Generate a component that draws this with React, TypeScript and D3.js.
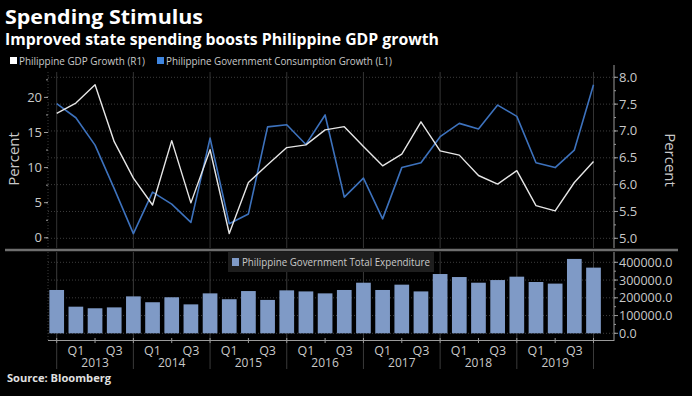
import React from 'react';
import * as d3 from 'd3';

// quarterly observations, Q4 2012 .. Q4 2019
const quarters = [
    '2012Q4',
    '2013Q1', '2013Q2', '2013Q3', '2013Q4',
    '2014Q1', '2014Q2', '2014Q3', '2014Q4',
    '2015Q1', '2015Q2', '2015Q3', '2015Q4',
    '2016Q1', '2016Q2', '2016Q3', '2016Q4',
    '2017Q1', '2017Q2', '2017Q3', '2017Q4',
    '2018Q1', '2018Q2', '2018Q3', '2018Q4',
    '2019Q1', '2019Q2', '2019Q3', '2019Q4',
];
// Philippine GDP Growth (R1)
const gdpGrowth = [
    7.33, 7.52, 7.86, 6.80, 6.12, 5.62, 6.82, 5.66, 6.65, 5.09,
    6.04, 6.37, 6.69, 6.74, 7.02, 7.08, 6.71, 6.35, 6.57, 7.17,
    6.63, 6.55, 6.17, 6.01, 6.26, 5.61, 5.51, 6.04, 6.43,
];
// Philippine Government Consumption Growth (L1)
const govConsumption = [
    19.1, 17.1, 13.2, 7.0, 0.6, 6.5, 4.8, 2.2, 14.2, 2.0,
    3.4, 15.8, 16.1, 13.3, 17.5, 5.8, 8.5, 2.7, 10.0, 10.7,
    14.4, 16.3, 15.5, 18.9, 17.3, 10.7, 10.0, 12.5, 21.8,
];
// Philippine Government Total Expenditure
const govExpenditure = [
    244000, 150000, 141000, 146000, 208000, 175000, 203000, 163000, 225000, 192000,
    238000, 188000, 242000, 236000, 225000, 244000, 285000, 244000, 274000, 236000,
    334000, 317000, 285000, 300000, 319000, 289000, 280000, 419000, 370000,
];
const leftTicks = [0, 5, 10, 15, 20];
const rightTicks = [5.0, 5.5, 6.0, 6.5, 7.0, 7.5, 8.0];
const barTicks = [0, 100000, 200000, 300000, 400000];

const W = 692;
const H = 396;
const FONT = '"Open Sans", "DejaVu Sans", sans-serif';
const TXT = '#c9c9c9';
const AXIS = '#9a9a9a';
const GRID = '#3d3d3d';
const BLUE = '#3d72bd';
const WHITE = '#e6e6e6';
const BAR = '#7f9ac6';

export default function App() {
    const plotL = 48;
    const plotR = 614;

    const x = d3.scaleLinear().domain([0, quarters.length - 1]).range([56.7, 593.5]);
    const yL = d3.scaleLinear().domain([0, 20]).range([237.8, 97.4]);
    const yR = d3.scaleLinear().domain([5, 8]).range([238.3, 77.3]);
    const yB = d3.scaleLinear().domain([0, 400000]).range([333.3, 262.3]);

    const gdpLine = d3.line<number>().x((_, i) => x(i)).y(d => yR(d));
    const govLine = d3.line<number>().x((_, i) => x(i)).y(d => yL(d));

    const barW = 14.7;
    const yearEnds = quarters.map((q, i) => (q.endsWith('Q4') ? i : -1)).filter(i => i >= 0);
    const halfTicks = quarters.map((q, i) => (q.endsWith('Q2') || q.endsWith('Q4') ? i : -1)).filter(i => i >= 0);
    const qLabels = quarters.map((q, i) => ({ q, i })).filter(d => d.q.endsWith('Q1') || d.q.endsWith('Q3'));
    const yearLabels = quarters.map((q, i) => ({ q, i })).filter(d => d.q.endsWith('Q2'));

    const rightMinor = d3.range(5, 8.01, 0.25);
    const leftMinor = d3.range(0, 22.6, 2.5);
    const barMinor = d3.range(0, 400001, 50000);

    return (
        <svg width={W} height={H} style={{ position: 'absolute', left: 0, top: 0, background: '#000' }} fontFamily={FONT}>
            <rect x={0} y={0} width={W} height={H} fill="#000" />

            {/* titles */}
            <text x={5} y={24} fill="#fff" fontSize={19.5} fontWeight={700} textLength={198} lengthAdjust="spacingAndGlyphs">Spending Stimulus</text>
            <text x={5} y={45} fill="#fff" fontSize={16} fontWeight={700} textLength={434} lengthAdjust="spacingAndGlyphs">Improved state spending boosts Philippine GDP growth</text>

            {/* legend top */}
            <rect x={10} y={57} width={7} height={7} fill="#fff" />
            <text x={19} y={65} fill={TXT} fontSize={11} textLength={126} lengthAdjust="spacingAndGlyphs">Philippine GDP Growth (R1)</text>
            <rect x={157} y={57} width={7} height={7} fill="#3f86e0" />
            <text x={166} y={65} fill={TXT} fontSize={11} textLength={226} lengthAdjust="spacingAndGlyphs">Philippine Government Consumption Growth (L1)</text>

            {/* top panel grid */}
            {rightTicks.map(t => (
                <line key={'hg' + t} x1={plotL} x2={plotR} y1={yR(t)} y2={yR(t)} stroke={GRID} strokeDasharray="1,2" />
            ))}
            {yearEnds.map(i => (
                <line key={'vg' + i} x1={x(i)} x2={x(i)} y1={72} y2={248} stroke="#333" />
            ))}
            <line x1={plotL} x2={plotL} y1={72} y2={248} stroke="#3a3a3a" strokeDasharray="1,2" />

            {/* left axis */}
            {leftMinor.map(t => (
                <line key={'lm' + t} x1={plotL - 2} x2={plotL} y1={yL(t)} y2={yL(t)} stroke={AXIS} />
            ))}
            {leftTicks.map(t => (
                <g key={'lt' + t}>
                    <line x1={plotL - 4} x2={plotL} y1={yL(t)} y2={yL(t)} stroke={AXIS} />
                    <text x={plotL - 6} y={yL(t) + 4.5} fill={TXT} fontSize={13} textAnchor="end">{t}</text>
                </g>
            ))}
            <text transform={`translate(19,159) rotate(-90)`} fill={TXT} fontSize={15} textAnchor="middle">Percent</text>

            {/* right axis */}
            <line x1={plotR} x2={plotR} y1={65} y2={248} stroke={AXIS} />
            {rightMinor.map(t => (
                <line key={'rm' + t} x1={plotR} x2={plotR + 2} y1={yR(t)} y2={yR(t)} stroke={AXIS} />
            ))}
            {rightTicks.map(t => (
                <g key={'rt' + t}>
                    <line x1={plotR} x2={plotR + 4} y1={yR(t)} y2={yR(t)} stroke={AXIS} />
                    <text x={plotR + 5} y={yR(t) + 4.5} fill={TXT} fontSize={13}>{t.toFixed(1)}</text>
                </g>
            ))}
            <text transform={`translate(665,160) rotate(90)`} fill={TXT} fontSize={15} textAnchor="middle">Percent</text>

            {/* lines */}
            <path d={govLine(govConsumption) || ''} fill="none" stroke={BLUE} strokeWidth={1.6} strokeLinejoin="round" />
            <path d={gdpLine(gdpGrowth) || ''} fill="none" stroke={WHITE} strokeWidth={1.4} strokeLinejoin="round" />

            {/* panel separator */}
            <line x1={5} x2={678} y1={250} y2={250} stroke="#6e6e6e" strokeWidth={2.5} />

            {/* bottom panel grid */}
            {barTicks.map(t => (
                <line key={'bg' + t} x1={plotL} x2={plotR} y1={yB(t)} y2={yB(t)} stroke={GRID} strokeDasharray="1,2" />
            ))}
            {yearEnds.map(i => (
                <line key={'bv' + i} x1={x(i)} x2={x(i)} y1={252} y2={369} stroke="#3a3a3a" />
            ))}
            <line x1={plotL} x2={plotL} y1={252} y2={340} stroke="#3a3a3a" strokeDasharray="1,2" />

            {/* bars */}
            {govExpenditure.map((v, i) => (
                <rect key={'b' + i} x={x(i) - barW / 2} y={yB(v)} width={barW} height={yB(0) - yB(v)} fill={BAR} />
            ))}

            {/* bottom legend */}
            <rect x={228} y={252} width={206} height={20} fill="#1e1e1e" />
            <rect x={232} y={258} width={7} height={8} fill={BAR} />
            <text x={242} y={266} fill={TXT} fontSize={11.5} textLength={188} lengthAdjust="spacingAndGlyphs">Philippine Government Total Expenditure</text>

            {/* bottom right axis */}
            <line x1={plotR} x2={plotR} y1={252} y2={341} stroke={AXIS} />
            {barMinor.map(t => (
                <line key={'bm' + t} x1={plotR} x2={plotR + 2} y1={yB(t)} y2={yB(t)} stroke={AXIS} />
            ))}
            {barTicks.map(t => (
                <g key={'bt' + t}>
                    <line x1={plotR} x2={plotR + 4} y1={yB(t)} y2={yB(t)} stroke={AXIS} />
                    <text x={plotR + 5} y={yB(t) + 4.5} fill={TXT} fontSize={12.5}>{t.toFixed(1)}</text>
                </g>
            ))}

            {/* x axis */}
            <line x1={plotL} x2={plotR} y1={340.5} y2={340.5} stroke={AXIS} />
            {halfTicks.map(i => (
                <line key={'xt' + i} x1={x(i)} x2={x(i)} y1={338} y2={343} stroke={AXIS} />
            ))}
            {qLabels.map(d => (
                <text key={'ql' + d.i} x={x(d.i)} y={354.5} fill={TXT} fontSize={12.5} textAnchor="middle">{d.q.slice(4)}</text>
            ))}
            {yearLabels.map(d => (
                <text key={'yl' + d.i} x={x(d.i)} y={367} fill={TXT} fontSize={12} textAnchor="middle">{d.q.slice(0, 4)}</text>
            ))}

            {/* source */}
            <text x={7} y={382} fill="#e0e0e0" fontSize={10.5} fontWeight={700} textLength={104} lengthAdjust="spacingAndGlyphs">Source: Bloomberg</text>
        </svg>
    );
}
